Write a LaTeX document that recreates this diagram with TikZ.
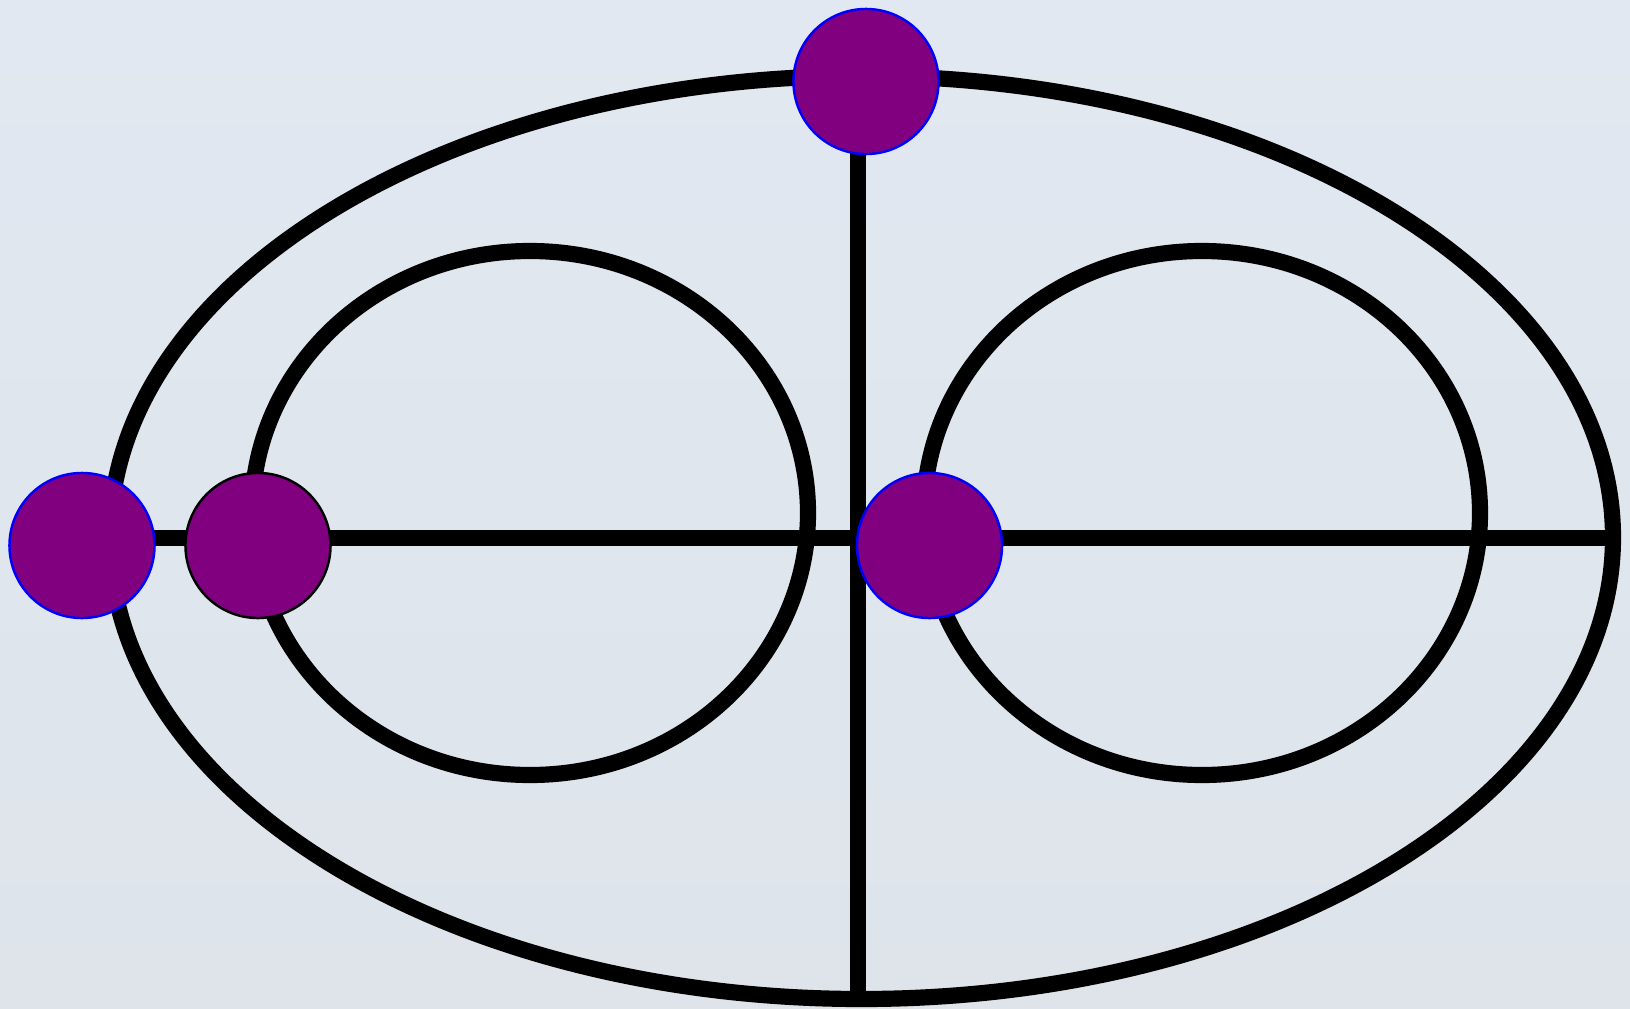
\documentclass[tikz,border=0pt]{standalone}
\usepackage{tikz}
\usetikzlibrary{positioning,calc,backgrounds}
\definecolor{clPaper}{HTML}{E2E8F1}
\definecolor{clPaperLow}{HTML}{DEE4EA}
\definecolor{clAtom}{HTML}{800080}
\definecolor{clRim}{HTML}{0000FF}
\pgfdeclarelayer{paper}
\pgfsetlayers{paper,background,main}
\tikzset{
  atom/.style={circle, fill=clAtom, draw=clRim, line width=0.7pt,
               inner sep=0pt, minimum size=1.45cm},
  darkatom/.style={atom, draw=black},
  bond/.style={line width=4.6pt, draw=black},
  orbit/.style={line width=4.6pt, draw=black},
}

\begin{document}
\begin{tikzpicture}[x=0.01cm, y=-0.01cm]
  \begin{pgfonlayer}{paper}
    \shade[top color=clPaper, bottom color=clPaperLow] (0,0) rectangle (1630,1009);
  \end{pgfonlayer}
  \useasboundingbox (0,0) rectangle (1630,1009);

  % atoms
  \node[atom] (top) at (866,81.5) {};
  \node[atom] (lft) at (82,545.5) {};
  \node[darkatom] (mid) at (258,545.5) {};
  \node[atom] (rgt) at (929.5,545.5) {};
  \coordinate (bot) at (858,999);
  \coordinate (east) at (1613,538);

  \begin{pgfonlayer}{background}
    \draw[orbit] (861.5,537.5) ellipse [x radius=751.5, y radius=461.5];
    \draw[orbit] (530,513) ellipse [x radius=278, y radius=262];
    \draw[orbit] (1202,513) ellipse [x radius=278, y radius=262];
    \draw[bond] (bot |- top) -- (bot);
    \draw[bond] (lft |- east) -- (east);
  \end{pgfonlayer}
\end{tikzpicture}
\end{document}
